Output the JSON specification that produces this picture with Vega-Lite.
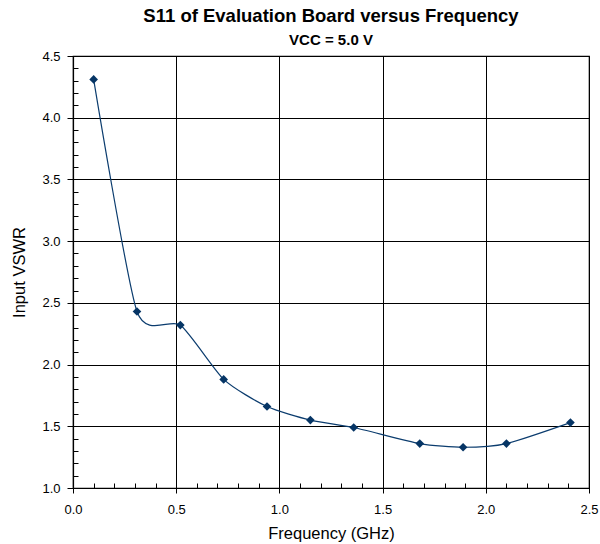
{
  "$schema": "https://vega.github.io/schema/vega-lite/v6.json",
  "autosize": {"type": "none"},
  "padding": {"left": 73, "top": 56, "right": 11, "bottom": 56},
  "width": 516,
  "height": 432,
  "background": "white",
  "config": {
    "font": "Liberation Sans",
    "view": {"stroke": "black", "strokeWidth": 1.2},
    "axis": {"labelColor": "black", "titleColor": "black", "labelFont": "Liberation Sans", "titleFont": "Liberation Sans", "labelFlush": false}
  },
  "title": {
    "text": "S11 of Evaluation Board versus Frequency",
    "subtitle": "VCC = 5.0 V",
    "fontSize": 18.5,
    "fontWeight": "bold",
    "subtitleFontSize": 15,
    "subtitleFontWeight": "bold",
    "subtitleColor": "black",
    "color": "black",
    "anchor": "middle",
    "frame": "group",
    "offset": 2,
    "subtitlePadding": 8,
    "font": "Liberation Sans",
    "subtitleFont": "Liberation Sans"
  },
  "data": {
    "values": [
      {"freq": 0.10, "vswr": 4.31},
      {"freq": 0.31, "vswr": 2.43},
      {"freq": 0.52, "vswr": 2.32},
      {"freq": 0.73, "vswr": 1.88},
      {"freq": 0.94, "vswr": 1.66},
      {"freq": 1.15, "vswr": 1.55},
      {"freq": 1.36, "vswr": 1.49},
      {"freq": 1.68, "vswr": 1.36},
      {"freq": 1.89, "vswr": 1.33},
      {"freq": 2.10, "vswr": 1.36},
      {"freq": 2.41, "vswr": 1.53}
    ]
  },
  "resolve": {"axis": {"x": "independent", "y": "independent"}},
  "layer": [
    {
      "mark": {"type": "line", "interpolate": "cardinal", "tension": 0.35, "color": "#0b3c6e", "strokeWidth": 1.2},
      "encoding": {
        "x": {
          "field": "freq", "type": "quantitative",
          "scale": {"domain": [0, 2.5], "nice": false, "zero": false},
          "axis": {
            "orient": "bottom",
            "title": "Frequency (GHz)",
            "values": [0, 0.5, 1.0, 1.5, 2.0, 2.5],
            "format": ".1f",
            "grid": true, "gridColor": "black", "gridOpacity": 1, "gridWidth": 1,
            "domainColor": "black", "domainWidth": 1.2,
            "tickColor": "black", "tickSize": 5, "tickWidth": 1,
            "labelFontSize": 13, "labelPadding": 10,
            "titleFontSize": 16.5, "titleFontWeight": "normal", "titlePadding": 9
          }
        },
        "y": {
          "field": "vswr", "type": "quantitative",
          "scale": {"domain": [1.0, 4.5], "nice": false, "zero": false},
          "axis": {
            "orient": "left",
            "title": "Input VSWR",
            "values": [1.0, 1.5, 2.0, 2.5, 3.0, 3.5, 4.0, 4.5],
            "format": ".1f",
            "grid": true, "gridColor": "black", "gridOpacity": 1, "gridWidth": 1,
            "domainColor": "black", "domainWidth": 1.2,
            "tickColor": "black", "tickSize": 6, "tickWidth": 1,
            "labelFontSize": 13, "labelPadding": 7,
            "titleFontSize": 16.5, "titleFontWeight": "normal", "titlePadding": 14
          }
        }
      }
    },
    {
      "mark": {"type": "point", "shape": "diamond", "filled": true, "color": "#063565", "size": 75, "opacity": 1},
      "encoding": {
        "x": {
          "field": "freq", "type": "quantitative",
          "axis": {
            "orient": "bottom",
            "title": null,
            "values": [0.1, 0.2, 0.3, 0.4, 0.6, 0.7, 0.8, 0.9, 1.1, 1.2, 1.3, 1.4, 1.6, 1.7, 1.8, 1.9, 2.1, 2.2, 2.3, 2.4],
            "labels": false, "grid": false, "domain": false,
            "tickColor": "black", "tickSize": -5, "tickWidth": 1
          }
        },
        "y": {
          "field": "vswr", "type": "quantitative",
          "axis": {
            "orient": "left",
            "title": null,
            "values": [1.1, 1.2, 1.3, 1.4, 1.6, 1.7, 1.8, 1.9, 2.1, 2.2, 2.3, 2.4, 2.6, 2.7, 2.8, 2.9, 3.1, 3.2, 3.3, 3.4, 3.6, 3.7, 3.8, 3.9, 4.1, 4.2, 4.3, 4.4],
            "labels": false, "grid": false, "domain": false,
            "tickColor": "black", "tickSize": -5, "tickWidth": 1
          }
        }
      }
    }
  ]
}
